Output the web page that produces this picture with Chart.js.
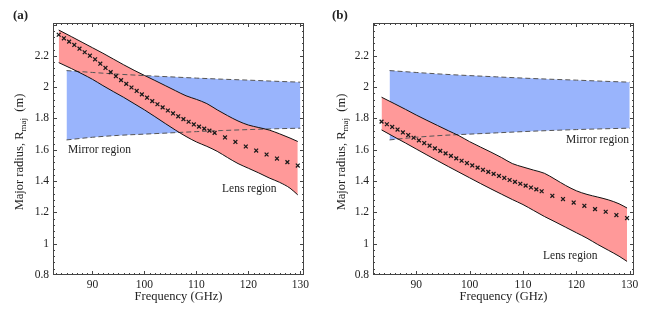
<!DOCTYPE html>
<html>
<head>
<meta charset="utf-8">
<script src="https://cdn.jsdelivr.net/npm/chart.js@4.4.1/dist/chart.umd.min.js"></script>
<style>
  html, body { margin: 0; padding: 0; background: #fff; }
  #wrap { position: relative; width: 654px; height: 310px; }
  .panel { position: absolute; top: 0; width: 327px; height: 310px; }
</style>
</head>
<body>
<div id="wrap">
  <div class="panel" style="left:0"><canvas id="chartA"></canvas></div>
  <div class="panel" style="left:327px"><canvas id="chartB"></canvas></div>
</div>
<script>
// axis ticks
const xTicks = [90, 100, 110, 120, 130];
const yTicks = [0.8, 1, 1.2, 1.4, 1.6, 1.8, 2, 2.2];

// frequencies of the crosses (GHz)
const freqCross = [83.5, 84.5, 85.5, 86.5, 87.5, 88.5, 89.5, 90.5, 91.5, 92.5,
  93.5, 94.5, 95.5, 96.5, 97.5, 98.5, 99.5, 100.5, 101.5, 102.5,
  103.5, 104.5, 105.5, 106.5, 107.5, 108.5, 109.5, 110.5, 111.5, 112.5,
  113.5, 115.5, 117.5, 119.5, 121.5, 123.5, 125.5, 127.5, 129.5];

// panel (a) crosses
const crossA = [2.335, 2.312, 2.291, 2.270, 2.246, 2.223, 2.201, 2.178, 2.150, 2.123,
  2.096, 2.070, 2.045, 2.021, 1.998, 1.976, 1.954, 1.933, 1.911, 1.891,
  1.871, 1.851, 1.832, 1.814, 1.796, 1.779, 1.762, 1.748, 1.735, 1.722,
  1.708, 1.679, 1.650, 1.621, 1.595, 1.570, 1.544, 1.521, 1.499];

// panel (b) crosses
const crossB = [1.780, 1.763, 1.746, 1.729, 1.711, 1.694, 1.677, 1.660, 1.643, 1.626,
  1.609, 1.593, 1.577, 1.561, 1.545, 1.530, 1.515, 1.500, 1.486, 1.472,
  1.459, 1.446, 1.433, 1.420, 1.407, 1.395, 1.383, 1.371, 1.359, 1.347,
  1.335, 1.306, 1.285, 1.263, 1.242, 1.221, 1.204, 1.183, 1.164];

// lens region (red band) edges
const freqRed = [83.5, 86, 88, 90, 92, 94, 96, 98, 100, 102, 104, 106,
  108, 110, 112, 114, 116, 118, 120, 122, 124, 126, 128, 129.5];
const redHiA = [2.365, 2.322, 2.287, 2.252, 2.217, 2.180, 2.143, 2.108, 2.075, 2.043, 2.010, 1.977,
  1.945, 1.922, 1.895, 1.855, 1.818, 1.784, 1.758, 1.742, 1.726, 1.702, 1.675, 1.653];
const redLoA = [2.157, 2.118, 2.085, 2.050, 2.010, 1.972, 1.935, 1.895, 1.855, 1.812, 1.768, 1.725,
  1.685, 1.650, 1.622, 1.590, 1.550, 1.512, 1.482, 1.452, 1.420, 1.392, 1.355, 1.312];
const redHiB = [1.936, 1.893, 1.858, 1.822, 1.788, 1.755, 1.722, 1.690, 1.652, 1.618, 1.585, 1.550,
  1.512, 1.490, 1.470, 1.450, 1.412, 1.372, 1.338, 1.315, 1.298, 1.280, 1.255, 1.228];
const redLoB = [1.727, 1.680, 1.643, 1.605, 1.567, 1.530, 1.493, 1.457, 1.421, 1.385, 1.350, 1.316,
  1.282, 1.250, 1.212, 1.174, 1.140, 1.105, 1.070, 1.035, 0.995, 0.958, 0.920, 0.887];

// mirror region (blue band) edges, same in both panels
const freqBlue = [85, 90, 95, 100, 105, 110, 115, 120, 125, 130];
const blueHi = [2.106, 2.094, 2.083, 2.074, 2.066, 2.058, 2.051, 2.045, 2.038, 2.032];
const blueLo = [1.663, 1.680, 1.692, 1.700, 1.708, 1.716, 1.723, 1.729, 1.734, 1.738];

const RED = 'rgb(255,153,153)';
const BLUE = 'rgb(153,180,252)';
const SERIF = "'Liberation Serif', 'DejaVu Serif', serif";

const pts = (xs, ys) => xs.map((x, i) => ({ x: x, y: ys[i] }));

// frame with inward ticks, axis titles and the text labels
const framePlugin = {
  id: 'frame',
  afterDraw(chart, args, o) {
    const { ctx, chartArea: a, scales } = chart;
    const sx = scales.x, sy = scales.y;
    ctx.save();
    ctx.strokeStyle = '#444';
    ctx.lineWidth = 1;
    ctx.strokeRect(a.left + 0.5, a.top + 0.5, a.right - a.left - 1, a.bottom - a.top - 1);

    ctx.beginPath();
    for (let v = 82; v <= 131; v += 1) {
      const x = Math.round(sx.getPixelForValue(v)) + 0.5;
      if (x <= a.left + 1 || x >= a.right - 1) continue;
      const len = v % 10 === 0 ? 4 : 2;
      ctx.moveTo(x, a.bottom); ctx.lineTo(x, a.bottom - len);
      ctx.moveTo(x, a.top); ctx.lineTo(x, a.top + len);
    }
    for (let k = 20; k <= 60; k++) {
      const v = k * 0.04;
      const y = Math.round(sy.getPixelForValue(v)) + 0.5;
      if (y <= a.top + 1 || y >= a.bottom - 1) continue;
      const len = k % 5 === 0 ? 4 : 2;
      ctx.moveTo(a.left, y); ctx.lineTo(a.left + len, y);
      ctx.moveTo(a.right, y); ctx.lineTo(a.right - len, y);
    }
    ctx.stroke();

    ctx.fillStyle = '#222';
    // x title
    ctx.font = '12.5px ' + SERIF;
    ctx.textAlign = 'center';
    ctx.textBaseline = 'middle';
    ctx.fillText('Frequency (GHz)', (a.left + a.right) / 2, 297);

    // y title with subscript
    ctx.save();
    ctx.translate(o.yTitleX, (a.top + a.bottom) / 2 + 3);
    ctx.rotate(-Math.PI / 2);
    const p1 = 'Major radius, R', p2 = 'maj', p3 = '  (m)';
    ctx.font = '12.5px ' + SERIF;
    const w1 = ctx.measureText(p1).width, w3 = ctx.measureText(p3).width;
    ctx.font = '9px ' + SERIF;
    const w2 = ctx.measureText(p2).width;
    let x0 = -(w1 + w2 + w3) / 2;
    ctx.textAlign = 'left';
    ctx.font = '12.5px ' + SERIF;
    ctx.fillText(p1, x0, 0);
    ctx.font = '9px ' + SERIF;
    ctx.fillText(p2, x0 + w1, 4);
    ctx.font = '12.5px ' + SERIF;
    ctx.fillText(p3, x0 + w1 + w2, 0);
    ctx.restore();

    // region labels
    ctx.font = '11.5px ' + SERIF;
    ctx.textAlign = 'left';
    ctx.fillText('Mirror region', o.mirror[0], o.mirror[1]);
    ctx.fillText('Lens region', o.lens[0], o.lens[1]);

    // panel letter
    ctx.font = 'bold 13px ' + SERIF;
    ctx.fillText(o.letter, o.letterX, 16);
    ctx.restore();
  }
};

function makeChart(id, cross, redHi, redLo, p) {
  const line = (data, extra) => Object.assign({
    data: data,
    pointRadius: 0,
    borderWidth: 1,
    cubicInterpolationMode: 'monotone',
    fill: false
  }, extra);

  return new Chart(document.getElementById(id), {
    type: 'line',
    data: {
      datasets: [
        {
          data: pts(freqCross, cross),
          showLine: false,
          pointStyle: 'crossRot',
          pointRadius: 2.7,
          pointBorderWidth: 1.25,
          pointBorderColor: '#1a1a1a',
          order: 0
        },
        line(pts(freqRed, redLo), { borderColor: '#111', order: 1 }),
        line(pts(freqRed, redHi), { borderColor: '#111', fill: 1, backgroundColor: RED, order: 1 }),
        line(pts(freqBlue, blueLo), { borderColor: '#555', borderDash: [5, 3], order: 2 }),
        line(pts(freqBlue, blueHi), { borderColor: '#555', borderDash: [5, 3], fill: 3, backgroundColor: BLUE, order: 2 })
      ]
    },
    options: {
      responsive: true,
      maintainAspectRatio: false,
      animation: false,
      layout: { padding: { top: 23, right: p.right, left: 0, bottom: 0 } },
      plugins: {
        legend: { display: false },
        tooltip: { enabled: false },
        filler: { drawTime: 'beforeDatasetsDraw' },
        frame: p
      },
      scales: {
        x: {
          type: 'linear',
          min: p.xmin, max: p.xmax,
          grid: { display: false, drawTicks: false },
          border: { display: false },
          afterFit: s => { s.height = 35; },
          afterBuildTicks: s => { s.ticks = xTicks.map(v => ({ value: v })); },
          ticks: {
            padding: 3,
            color: '#222',
            font: { family: SERIF, size: 11.5 },
            maxRotation: 0,
            callback: v => String(v)
          }
        },
        y: {
          type: 'linear',
          min: 0.8, max: 2.41,
          grid: { display: false, drawTicks: false },
          border: { display: false },
          afterFit: s => { s.width = p.left; },
          afterBuildTicks: s => { s.ticks = yTicks.map(v => ({ value: v })); },
          ticks: {
            padding: 4,
            color: '#222',
            font: { family: SERIF, size: 11.5 },
            callback: v => String(Number(v.toFixed(1)))
          }
        }
      }
    },
    plugins: [framePlugin]
  });
}

makeChart('chartA', crossA, redHiA, redLoA, {
  left: 53, right: 23, xmin: 82.4, xmax: 130.7,
  yTitleX: 20, letter: '(a)', letterX: 13,
  mirror: [68, 150], lens: [222, 189]
});
makeChart('chartB', crossB, redHiB, redLoB, {
  left: 46, right: 20, xmin: 81.9, xmax: 130.8,
  yTitleX: 15, letter: '(b)', letterX: 5,
  mirror: [239, 140], lens: [216, 256]
});
</script>
</body>
</html>
